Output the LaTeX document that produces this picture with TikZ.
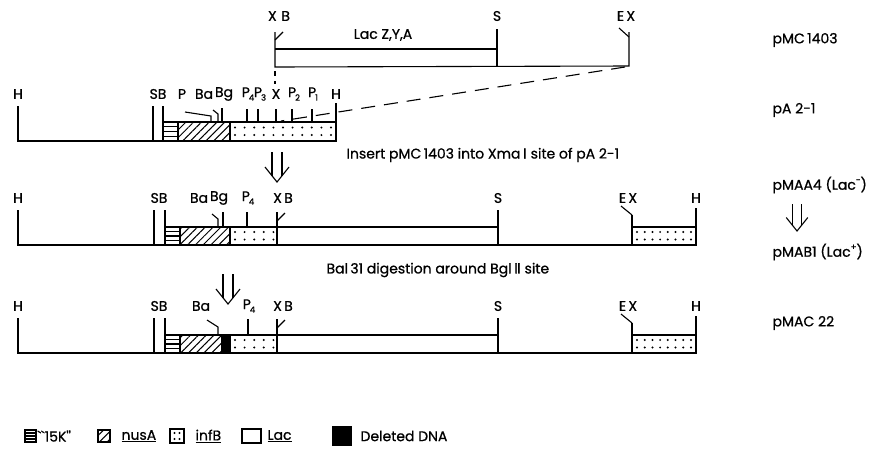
\documentclass[tikz,border=0pt]{standalone}
\usepackage{fontspec}
\setmainfont{Poppins}
\newfontfamily\lblfont{Poppins}[FakeBold=0.8]
\newfontfamily\dejavu{DejaVu Sans}[FakeBold=0.8]
\usetikzlibrary{patterns.meta}

\newcommand{\Ps}[1]{P\kern-1pt\raisebox{-0.45ex}{\fontsize{8.5}{8}\selectfont #1}}
\newcommand{\Sup}[1]{\raisebox{0.9ex}{\fontsize{8.5}{8}\selectfont #1}}

\begin{document}
\begin{tikzpicture}[x=1pt,y=-1pt,line width=1.1pt,
  lbl/.style={font=\lblfont\fontsize{14}{16}\selectfont, inner sep=0pt},
  hatch/.style={pattern={Lines[angle=45,distance=5.5pt,line width=1pt]}},
  gap/.style={dash pattern=on 14pt off 9pt},
  dblarrow/.pic={\draw (-5,0) -- (-5,23.75) (5,0) -- (5,23.75);
                 \draw (-12,15) -- (0,30) -- (12,15);}]
\useasboundingbox (0,0) rectangle (874,448);

% pMC1403
\draw (275,49) -- (497,49);
\draw (275,32) -- (275,67) -- (629,66) -- (629,32);
\draw (275,40) -- (283,32);
\draw (497,29) -- (497,67);
\draw (619,28) -- (629,37);
\node[lbl] (mcXB) at (279,16) {X\,\,B};
\node[lbl] (mcS) at (497,16) {S};
\node[lbl] (mcEX) at (626,16) {E\,X};
\node[lbl] (lacZYA) at (383,35) {Lac Z,Y,A};
\draw[dash pattern=on 5pt off 5pt] (275,71) -- (275,84);
\draw[gap] (625,67) -- (281,121);

% pA 2-1
\draw (18,106) -- (18,141) -- (163,141);
\draw (153,106) -- (153,141);
\draw (163,106) -- (163,141);
\draw (163,122) rectangle (178,141);
\foreach \y in {126.75,131.5,136.25} \draw (163,\y) -- (178,\y);
\draw[hatch] (178,122) rectangle (230,141);
\draw (230,122) rectangle (336,141);
\foreach \x in {235,244.6,...,332} \fill (\x,127.5) circle (1.1) (\x,135) circle (1.1);
\draw (336,103) -- (336,122);
\draw (185,112) -- (211,116) -- (211,122);
\draw (213,110) -- (218,114) -- (218,122);
\draw (222,108) -- (222,122);
\foreach \x in {247,258,276,292,312} \draw (\x,109) -- (\x,122);
\node[lbl] (aH) at (18,94) {H};
\node[lbl] (aSB) at (158,94) {SB};
\node[lbl] (aP) at (182,94) {P};
\node[lbl] (aBa) at (204,94) {Ba};
\node[lbl] (aBg) at (224,94) {Bg};
\node[lbl] (aP4) at (248,94) {\Ps{4}};
\node[lbl] (aP3) at (260,94) {\Ps{3}};
\node[lbl] (aX) at (276,94) {X};
\node[lbl] (aP2) at (294,94) {\Ps{2}};
\node[lbl] (aP1) at (313,94) {\Ps{1}};
\node[lbl] (aH2) at (336,94) {H};

\pic at (277,152) {dblarrow};
\node[lbl, anchor=west] (insert) at (346,155) {Insert pMC\,1403 into Xma\,{\dejavu Ⅰ} site of pA 2-1};

% pMAA4
\draw (18,210) -- (18,245) -- (632,245);
\draw (154,210) -- (154,245);
\draw (165,210) -- (165,245);
\draw (165,227) rectangle (180,245);
\foreach \y in {231.5,236,240.5} \draw (165,\y) -- (180,\y);
\draw[hatch] (180,227) rectangle (230,245);
\draw (230,227) rectangle (277,245);
\foreach \x in {235,244.6,...,274} \fill (\x,232) circle (1.1) (\x,239.5) circle (1.1);
\draw (277,227) rectangle (498,245);
\draw (632,227) rectangle (696,245);
\foreach \x in {637,644.7,...,692} \fill (\x,232) circle (1.1) (\x,239.5) circle (1.1);
\draw (212,214) -- (218,219) -- (218,227);
\draw (223,212) -- (223,227);
\draw (247,212) -- (247,227);
\draw (277,212) -- (277,227);
\draw (277,221) -- (285,213);
\draw (498,210) -- (498,227);
\draw (632,215) -- (632,227);
\draw (621,206) -- (632,215);
\draw (696,208) -- (696,227);
\node[lbl] (bH) at (18,198) {H};
\node[lbl] (bSB) at (159,198) {SB};
\node[lbl] (bBa) at (199,198) {Ba};
\node[lbl] (bBg) at (219,198) {Bg};
\node[lbl] (bP4) at (248,198) {\Ps{4}};
\node[lbl] (bXB) at (283,198) {X\,B};
\node[lbl] (bS) at (498,198) {S};
\node[lbl] (bEX) at (628,198) {E\,X};
\node[lbl] (bH2) at (696,198) {H};

\pic at (228,274) {dblarrow};
\node[lbl, anchor=west] (bal) at (326,270) {Bal\,31 digestion around Bgl\,{\dejavu Ⅱ} site};

% pMAC 22
\draw (18,318) -- (18,353) -- (632,353);
\draw (154,318) -- (154,353);
\draw (165,318) -- (165,353);
\draw (165,335) rectangle (180,353);
\foreach \y in {339.5,344,348.5} \draw (165,\y) -- (180,\y);
\draw[hatch] (180,335) rectangle (222,353);
\draw[fill=black] (222,335) rectangle (230,353);
\draw (230,335) rectangle (277,353);
\foreach \x in {235,244.6,...,274} \fill (\x,340) circle (1.1) (\x,347.5) circle (1.1);
\draw (277,335) rectangle (498,353);
\draw (632,335) rectangle (696,353);
\foreach \x in {637,644.7,...,692} \fill (\x,340) circle (1.1) (\x,347.5) circle (1.1);
\draw (207,320) -- (218,327) -- (218,335);
\draw (248,319) -- (248,335);
\draw (277,319) -- (277,335);
\draw (277,328) -- (285,320);
\draw (498,318) -- (498,335);
\draw (632,323) -- (632,335);
\draw (621,314) -- (632,323);
\draw (696,316) -- (696,335);
\node[lbl] (cH) at (18,306) {H};
\node[lbl] (cSB) at (159,306) {SB};
\node[lbl] (cBa) at (201,306) {Ba};
\node[lbl] (cP4) at (249,306) {\Ps{4}};
\node[lbl] (cXB) at (283,306) {X\,B};
\node[lbl] (cS) at (498,306) {S};
\node[lbl] (cEX) at (628,306) {E\,X};
\node[lbl] (cH2) at (696,306) {H};

% plasmid names
\node[lbl, anchor=west] (pMC) at (772,40) {pMC\,1403};
\node[lbl, anchor=west] (pA) at (772,110) {pA 2-1};
\node[lbl, anchor=west] (pMAA) at (772,185) {pMAA4 (Lac\Sup{-})};
\pic[scale=0.9] at (797,204) {dblarrow};
\node[lbl, anchor=west] (pMAB) at (772,252) {pMAB1 (Lac\Sup{+})};
\node[lbl, anchor=west] (pMAC) at (772,323) {pMAC 22};

% legend
\draw (25,430) rectangle (36,442);
\foreach \y in {433,436,439} \draw (25,\y) -- (36,\y);
\node[lbl, anchor=west] (k15) at (37,436) {``15K''};
\draw[hatch] (98,430) rectangle (110,442);
\node[lbl, anchor=west] (lnus) at (121,436) {\underline{nusA}};
\draw (170,429) rectangle (184,443);
\foreach \x in {174.5,179.5} \fill (\x,433) circle (1.1) (\x,439) circle (1.1);
\node[lbl, anchor=west] (linf) at (195,436) {\underline{infB}};
\draw (242,429) rectangle (261,443);
\node[lbl, anchor=west] (llac) at (267,436) {\underline{Lac}};
\fill (332,426) rectangle (352,446);
\node[lbl, anchor=west] (ldel) at (360,436) {Deleted DNA};
\end{tikzpicture}
\end{document}
